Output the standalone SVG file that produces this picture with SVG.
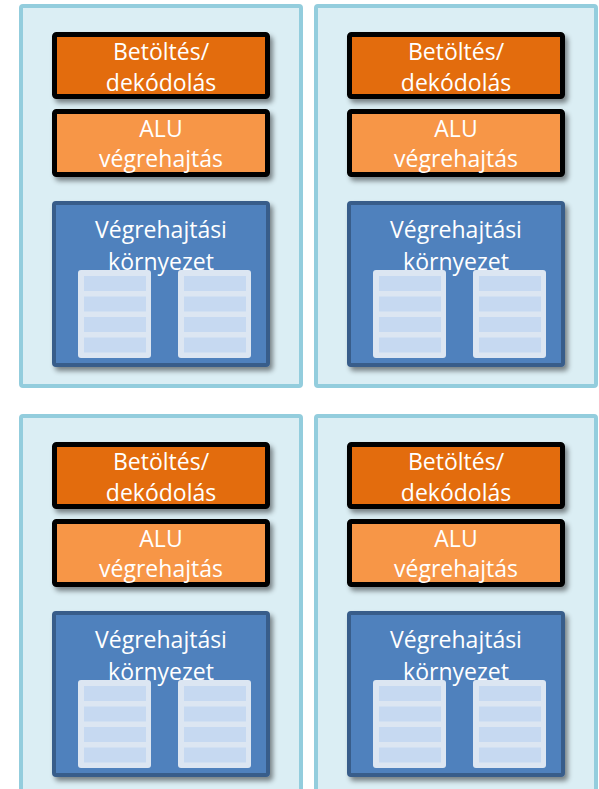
<svg xmlns="http://www.w3.org/2000/svg" width="599" height="789" viewBox="0 0 599 789">
  <style>
    .panel { fill: #DBEEF4; stroke: #93CDDD; stroke-width: 4; }
    .fetch { fill: #E36C09; stroke: #000; stroke-width: 5; filter: url(#shadow); }
    .alu { fill: #F79646; stroke: #000; stroke-width: 5; filter: url(#shadow); }
    .env { fill: #4F81BD; stroke: #385D8A; stroke-width: 4; filter: url(#shadow); }
    .stack { fill: #DCE6F2; }
    .row { fill: #C6D9F1; }
    .lbl { font-family: "Open Sans", "Noto Sans", sans-serif; font-size: 23px; fill: #FFFFFF; text-anchor: middle; }
  </style>
  <defs>
    <filter id="shadow" x="-10%" y="-10%" width="125%" height="130%">
      <feDropShadow dx="3" dy="4" stdDeviation="2.5" flood-color="#000" flood-opacity="0.45"/>
    </filter>
    <!-- register file: rounded plate with four slots -->
    <g id="regfile">
      <rect class="stack" x="0" y="0" width="73" height="88" rx="3"/>
      <rect class="row" x="6" y="6" width="62" height="15"/>
      <rect class="row" x="6" y="26.5" width="62" height="15"/>
      <rect class="row" x="6" y="47" width="62" height="15"/>
      <rect class="row" x="6" y="67.5" width="62" height="15"/>
    </g>
  </defs>

  <!-- core 1 -->
  <g id="core1">
    <rect class="panel" x="21" y="6" width="280" height="380" rx="2"/>
    <g id="core1-fetch">
      <rect class="fetch" x="54.5" y="34.5" width="213" height="62" rx="2"/>
      <text class="lbl" x="161" y="59.5">Betöltés/</text>
      <text class="lbl" x="161" y="91">dekódolás</text>
    </g>
    <g id="core1-alu">
      <rect class="alu" x="54.5" y="111.5" width="213" height="63" rx="2"/>
      <text class="lbl" x="161" y="137">ALU</text>
      <text class="lbl" x="161" y="167">végrehajtás</text>
    </g>
    <g id="core1-env">
      <rect class="env" x="54" y="203" width="214" height="162" rx="2"/>
      <text class="lbl" x="161" y="238">Végrehajtási</text>
      <text class="lbl" x="161" y="270">környezet</text>
      <use href="#regfile" x="78" y="270"/>
      <use href="#regfile" x="178" y="270"/>
    </g>
  </g>

  <!-- core 2 -->
  <g id="core2" transform="translate(295,0)">
    <rect class="panel" x="21" y="6" width="280" height="380" rx="2"/>
    <g id="core2-fetch">
      <rect class="fetch" x="54.5" y="34.5" width="213" height="62" rx="2"/>
      <text class="lbl" x="161" y="59.5">Betöltés/</text>
      <text class="lbl" x="161" y="91">dekódolás</text>
    </g>
    <g id="core2-alu">
      <rect class="alu" x="54.5" y="111.5" width="213" height="63" rx="2"/>
      <text class="lbl" x="161" y="137">ALU</text>
      <text class="lbl" x="161" y="167">végrehajtás</text>
    </g>
    <g id="core2-env">
      <rect class="env" x="54" y="203" width="214" height="162" rx="2"/>
      <text class="lbl" x="161" y="238">Végrehajtási</text>
      <text class="lbl" x="161" y="270">környezet</text>
      <use href="#regfile" x="78" y="270"/>
      <use href="#regfile" x="178" y="270"/>
    </g>
  </g>

  <!-- core 3 -->
  <g id="core3" transform="translate(0,410)">
    <rect class="panel" x="21" y="6" width="280" height="380" rx="2"/>
    <g id="core3-fetch">
      <rect class="fetch" x="54.5" y="34.5" width="213" height="62" rx="2"/>
      <text class="lbl" x="161" y="59.5">Betöltés/</text>
      <text class="lbl" x="161" y="91">dekódolás</text>
    </g>
    <g id="core3-alu">
      <rect class="alu" x="54.5" y="111.5" width="213" height="63" rx="2"/>
      <text class="lbl" x="161" y="137">ALU</text>
      <text class="lbl" x="161" y="167">végrehajtás</text>
    </g>
    <g id="core3-env">
      <rect class="env" x="54" y="203" width="214" height="162" rx="2"/>
      <text class="lbl" x="161" y="238">Végrehajtási</text>
      <text class="lbl" x="161" y="270">környezet</text>
      <use href="#regfile" x="78" y="270"/>
      <use href="#regfile" x="178" y="270"/>
    </g>
  </g>

  <!-- core 4 -->
  <g id="core4" transform="translate(295,410)">
    <rect class="panel" x="21" y="6" width="280" height="380" rx="2"/>
    <g id="core4-fetch">
      <rect class="fetch" x="54.5" y="34.5" width="213" height="62" rx="2"/>
      <text class="lbl" x="161" y="59.5">Betöltés/</text>
      <text class="lbl" x="161" y="91">dekódolás</text>
    </g>
    <g id="core4-alu">
      <rect class="alu" x="54.5" y="111.5" width="213" height="63" rx="2"/>
      <text class="lbl" x="161" y="137">ALU</text>
      <text class="lbl" x="161" y="167">végrehajtás</text>
    </g>
    <g id="core4-env">
      <rect class="env" x="54" y="203" width="214" height="162" rx="2"/>
      <text class="lbl" x="161" y="238">Végrehajtási</text>
      <text class="lbl" x="161" y="270">környezet</text>
      <use href="#regfile" x="78" y="270"/>
      <use href="#regfile" x="178" y="270"/>
    </g>
  </g>
</svg>
